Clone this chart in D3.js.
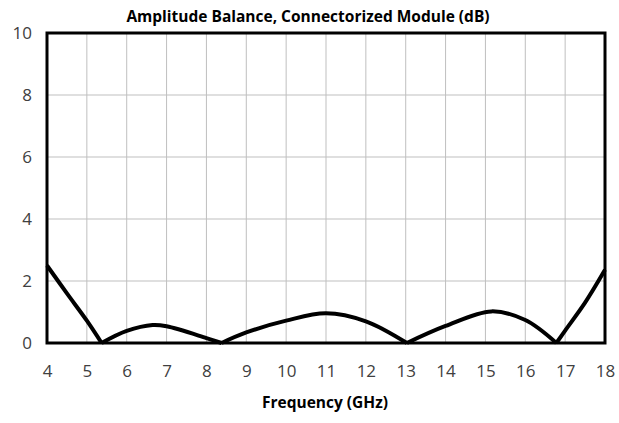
<!DOCTYPE html>
<html>
<head>
<meta charset="utf-8">
<script src="https://cdn.jsdelivr.net/npm/d3@7"></script>
<style>
  body { margin: 0; background: #fff; }
  text { font-family: "Open Sans", "Noto Sans", sans-serif; }
</style>
</head>
<body>
<div id="chart"></div>
<script>
// Data
const freq = [4, 4.5, 5, 5.37, 6, 6.65, 7, 8, 8.38, 9, 10, 11, 12, 13.03, 14, 15.15, 16, 16.78, 17, 17.5, 18];
const balance = [2.5, 1.6, 0.72, 0, 0.39, 0.58, 0.54, 0.16, 0, 0.34, 0.72, 0.96, 0.7, 0, 0.55, 1.02, 0.74, 0, 0.4, 1.3, 2.36];
const xTicks = d3.range(4, 19, 1);
const yTicks = [0, 2, 4, 6, 8, 10];

const width = 619, height = 423;
const margin = {top: 33, right: 14, bottom: 80, left: 47};
const w = width - margin.left - margin.right,
  h = height - margin.top - margin.bottom;

const svg = d3.select("#chart").append("svg")
  .attr("width", width)
  .attr("height", height);

const g = svg.append("g")
  .attr("transform", "translate(" + margin.left + "," + margin.top + ")");

const x = d3.scaleLinear().domain([4, 18]).range([0, w]);
const y = d3.scaleLinear().domain([0, 10]).range([h, 0]);

// grid
g.selectAll(".vgrid").data(xTicks).enter().append("line")
  .attr("x1", d => x(d)).attr("x2", d => x(d))
  .attr("y1", 0).attr("y2", h)
  .attr("stroke", "#bfbfbf").attr("stroke-width", 1);
g.selectAll(".hgrid").data(yTicks).enter().append("line")
  .attr("x1", 0).attr("x2", w)
  .attr("y1", d => y(d)).attr("y2", d => y(d))
  .attr("stroke", "#bfbfbf").attr("stroke-width", 1);

// axes (labels only)
const xAxis = g.append("g")
  .attr("transform", "translate(0," + h + ")")
  .call(d3.axisBottom(x).tickValues(xTicks).tickSize(0).tickPadding(22).tickFormat(d3.format("d")));
const yAxis = g.append("g")
  .call(d3.axisLeft(y).tickValues(yTicks).tickSize(0).tickPadding(15).tickFormat(d3.format("d")));
[xAxis, yAxis].forEach(a => {
  a.select(".domain").remove();
  a.selectAll("text").attr("font-size", 17).attr("fill", "#404040")
    .style("font-family", "'Open Sans', sans-serif");
});

// curve: split at the zero crossings so the dips stay sharp
const pts = freq.map((f, i) => [f, balance[i]]);
const segments = [];
let cur = [pts[0]];
for (let i = 1; i < pts.length; i++) {
  cur.push(pts[i]);
  if (pts[i][1] === 0 && i < pts.length - 1) {
    segments.push(cur);
    cur = [pts[i]];
  }
}
segments.push(cur);

const line = d3.line()
  .x(d => x(d[0]))
  .y(d => y(d[1]))
  .curve(d3.curveCatmullRom.alpha(0.5));
g.selectAll(".seg").data(segments).enter().append("path")
  .attr("d", line)
  .attr("fill", "none")
  .attr("stroke", "#000")
  .attr("stroke-width", 4)
  .attr("stroke-linejoin", "round");

// plot border
g.append("rect")
  .attr("x", 0).attr("y", 0).attr("width", w).attr("height", h)
  .attr("fill", "none").attr("stroke", "#000").attr("stroke-width", 3);

// title
svg.append("text")
  .attr("x", 308).attr("y", 22)
  .attr("text-anchor", "middle")
  .attr("font-size", 15.5).attr("font-weight", "bold").attr("fill", "#000")
  .text("Amplitude Balance, Connectorized Module (dB)");

// x label
svg.append("text")
  .attr("x", 325).attr("y", 408)
  .attr("text-anchor", "middle")
  .attr("font-size", 15.5).attr("font-weight", "bold").attr("fill", "#000")
  .text("Frequency (GHz)");
</script>
</body>
</html>
